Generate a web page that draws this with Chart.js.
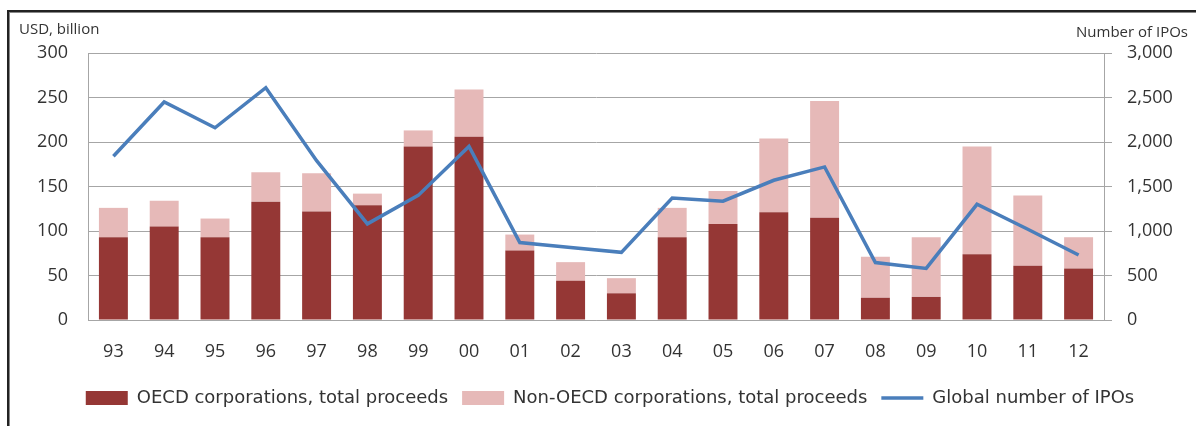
<!DOCTYPE html>
<html>
<head>
<meta charset="utf-8">
<script src="https://cdn.jsdelivr.net/npm/chart.js@4.4.1/dist/chart.umd.min.js"></script>
<style>
  html, body { margin: 0; padding: 0; background: #fff; }
  #wrap { position: relative; width: 1196px; height: 426px; overflow: hidden; }
  #frame {
    position: absolute; left: 7px; top: 10px; width: 1200px; height: 430px;
    border-top: 2px solid #222; border-left: 2px solid #222;
    box-shadow: inset 1px 1px 0 #888;
    pointer-events: none;
  }
  canvas { position: absolute; left: 0; top: 0; }
</style>
</head>
<body>
<div id="wrap">
  <canvas id="chart" width="1196" height="426"></canvas>
  <div id="frame"></div>
</div>
<script>
// Anos (rótulos do eixo X)
const years = ["93", "94", "95", "96", "97", "98", "99", "00", "01", "02",
               "03", "04", "05", "06", "07", "08", "09", "10", "11", "12"];

// Receitas (USD bilhões)
const oecdProceeds = [93, 105, 93, 133, 122, 129, 195, 206, 78, 44,
                      30, 93, 108, 121, 115, 25, 26, 74, 61, 58];
const nonOecdProceeds = [33, 29, 21, 33, 43, 13, 18, 53, 18, 21,
                         17, 33, 37, 83, 131, 46, 67, 121, 79, 35];

// Número global de IPOs
const globalIpos = [1840, 2450, 2160, 2610, 1790, 1080, 1400, 1950, 870, 815,
                    760, 1370, 1335, 1570, 1720, 645, 580, 1300, 1020, 730];

const textColor = "#333333";
const gridColor = "#a6a6a6";
const fontFamily = "'Open Sans', sans-serif";
const legendFont = "'DejaVu Sans', sans-serif";

// Títulos dos eixos no topo (texto horizontal)
const axisTitles = {
    id: "axisTitles",
    afterDraw(chart) {
        const ctx = chart.ctx;
        ctx.save();
        ctx.fillStyle = textColor;
        ctx.font = "15px " + fontFamily;
        ctx.textBaseline = "middle";
        ctx.textAlign = "left";
        ctx.fillText("USD, billion", 19, 30);
        ctx.textAlign = "right";
        ctx.fillText("Number of IPOs", 1188, 33);
        ctx.restore();
    }
};

const ctx = document.getElementById("chart").getContext("2d");

new Chart(ctx, {
    data: {
        labels: years,
        datasets: [
            {
                type: "bar",
                label: "OECD corporations, total proceeds",
                data: oecdProceeds,
                backgroundColor: "#953735",
                borderWidth: 0,
                yAxisID: "y",
                order: 2,
                pointStyle: "rect"
            },
            {
                type: "bar",
                label: "Non-OECD corporations, total proceeds",
                data: nonOecdProceeds,
                backgroundColor: "#e6b9b8",
                borderWidth: 0,
                yAxisID: "y",
                order: 2,
                pointStyle: "rect"
            },
            {
                type: "line",
                label: "Global number of IPOs",
                data: globalIpos,
                borderColor: "#4a7ebb",
                backgroundColor: "#4a7ebb",
                borderWidth: 3.5,
                pointRadius: 0,
                tension: 0,
                yAxisID: "y1",
                order: 0,
                pointStyle: "line"
            }
        ]
    },
    options: {
        responsive: false,
        animation: false,
        barPercentage: 0.57,
        categoryPercentage: 1,
        layout: { padding: { top: 53, left: 24, right: 0, bottom: 9 } },
        scales: {
            x: {
                stacked: true,
                grid: { display: false, drawTicks: false },
                border: { display: true, color: gridColor },
                ticks: { color: textColor, font: { family: fontFamily, size: 18 }, padding: 21 },
                afterFit: scale => { scale.height = 55; }
            },
            y: {
                stacked: true,
                position: "left",
                min: 0,
                max: 300,
                ticks: { stepSize: 50, color: textColor, font: { family: fontFamily, size: 18 }, padding: 20 },
                grid: { color: gridColor, drawTicks: false },
                border: { display: true, color: gridColor },
                afterFit: scale => { scale.width = 64; }
            },
            y1: {
                position: "right",
                min: 0,
                max: 3000,
                ticks: {
                    stepSize: 500,
                    color: textColor,
                    font: { family: fontFamily, size: 18 },
                    padding: 15,
                    callback: v => v.toLocaleString("en-US")
                },
                grid: { drawOnChartArea: false, color: gridColor, tickLength: 8 },
                border: { display: true, color: gridColor },
                afterFit: scale => { scale.width = 92; }
            }
        },
        plugins: {
            legend: {
                position: "bottom",
                labels: {
                    usePointStyle: true,
                    pointStyleWidth: 42,
                    boxHeight: 14,
                    color: textColor,
                    font: { family: legendFont, size: 18 },
                    padding: 14,
                    sort: (a, b) => a.datasetIndex - b.datasetIndex
                }
            },
            tooltip: { enabled: false }
        }
    },
    plugins: [axisTitles]
});
</script>
</body>
</html>
